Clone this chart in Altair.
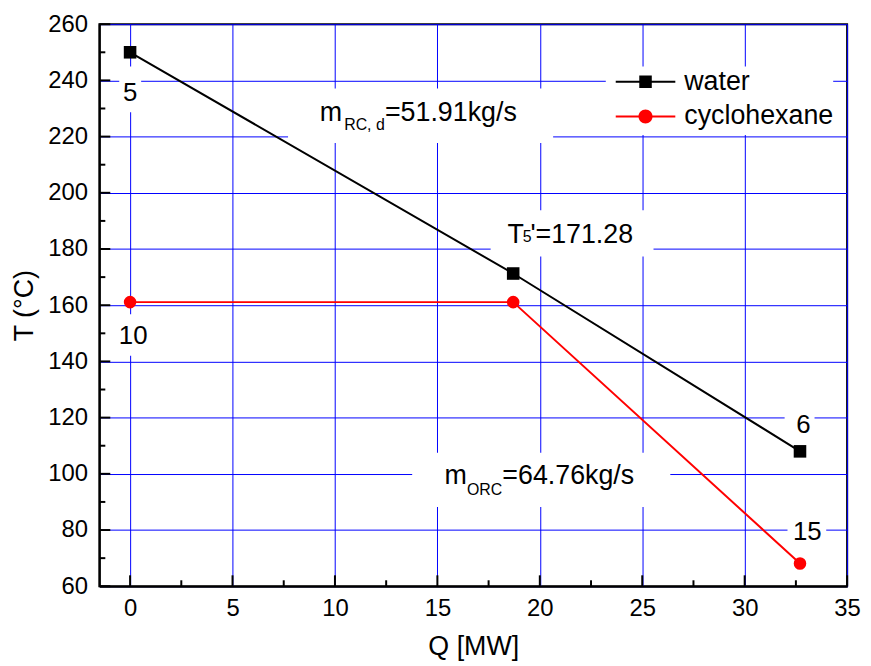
import altair as alt
import pandas as pd

FONT = "Liberation Sans"

# ---- series data ----
series_names = ["water", "cyclohexane"]
series_colors = ["#000000", "#ff0000"]
water_Q = [0.0, 18.7, 32.7]
water_T = [250.0, 171.28, 108.0]
cyc_Q = [0.0, 18.7, 32.7]
cyc_T = [161.1, 161.1, 68.1]

# ---- axes ----
x_ticks = [0, 5, 10, 15, 20, 25, 30, 35]
x_minor = [2.5, 7.5, 12.5, 17.5, 22.5, 27.5, 32.5]
y_ticks = [60, 80, 100, 120, 140, 160, 180, 200, 220, 240, 260]
y_minor = [70, 90, 110, 130, 150, 170, 190, 210, 230, 250]

# ---- point labels ----
pt_label_text = ["5", "10", "6", "15"]
pt_label_Q = [0.0, 0.15, 32.87, 33.06]
pt_label_T = [232.5, 146.3, 114.6, 76.3]

# ---- annotations (main text pieces and subscripts) ----
ann_text = ["m", "=51.91kg/s", "T", "'=171.28", "m", "=64.76kg/s"]
ann_Q = [9.26, 12.44, 18.42, 19.54, 15.35, 18.17]
ann_T = [225.5, 225.5, 182.2, 182.2, 96.3, 96.3]
sub_text = ["RC, d", "5", "ORC"]
sub_Q = [10.45, 19.17, 16.44]
sub_T = [222.3, 182.5, 92.4]

# ---- white label backgrounds ----
box_Q = [7.71, 23.22, 17.6, -0.53, -0.67, 31.95, 32.09, 13.77]
box_Q2 = [20.65, 34.32, 25.55, 0.54, 0.97, 33.41, 33.98, 26.37]
box_T = [237.1, 244.9, 193.8, 244.9, 156.8, 124.4, 85.7, 107.5]
box_T2 = [217.7, 220.6, 177.3, 228.7, 142.0, 112.1, 74.1, 88.2]

water_df = pd.DataFrame({"Q": water_Q, "T": water_T})
cyc_df = pd.DataFrame({"Q": cyc_Q, "T": cyc_T})
df = pd.DataFrame({
    "series": ["water"] * len(water_Q) + ["cyclohexane"] * len(cyc_Q),
    "Q": water_Q + cyc_Q,
    "T": water_T + cyc_T,
})
pt_df = pd.DataFrame({"label": pt_label_text, "Q": pt_label_Q, "T": pt_label_T})
ann_df = pd.DataFrame({"label": ann_text, "Q": ann_Q, "T": ann_T})
sub_df = pd.DataFrame({"label": sub_text, "Q": sub_Q, "T": sub_T})
box_df = pd.DataFrame({"Q": box_Q, "Q2": box_Q2, "T": box_T, "T2": box_T2})
xmaj_df = pd.DataFrame({"Q": x_ticks})
xmin_df = pd.DataFrame({"Q": x_minor})
ymaj_df = pd.DataFrame({"T": y_ticks})
ymin_df = pd.DataFrame({"T": y_minor})

W, H = 753, 566
xscale = alt.Scale(domain=[-1.5, 35], nice=False, zero=False)
yscale = alt.Scale(domain=[60, 260], nice=False, zero=False)

x_axis = alt.Axis(values=x_ticks, title="Q [MW]", grid=True, gridColor="#0000ff",
                  gridWidth=1, ticks=False, tickSize=0, labelFontSize=24, labelFont=FONT,
                  labelColor="black", labelPadding=10, labelFlush=False,
                  titleFontSize=27, titleFont=FONT, titleFontWeight="normal",
                  titleColor="black", titleY=69, titleBaseline="alphabetic",
                  domainColor="black", domainWidth=2)
y_axis = alt.Axis(values=y_ticks, title="T (°C)", grid=True, gridColor="#0000ff",
                  gridWidth=1, ticks=False, tickSize=0, labelFontSize=24, labelFont=FONT,
                  labelColor="black", labelPadding=12, labelFlush=False,
                  titleFontSize=27, titleFont=FONT, titleFontWeight="normal",
                  titleColor="black", titleX=-67, titleBaseline="alphabetic",
                  domainColor="black", domainWidth=2)

X = alt.X("Q:Q", scale=xscale, axis=x_axis)
Y = alt.Y("T:Q", scale=yscale, axis=y_axis)

color_scale = alt.Scale(domain=series_names, range=series_colors)

# legend symbols: line segment with marker (coordinates in symbol units)
sq_path = "M-2,-0.07H2V0.07H-2ZM-0.42,-0.42H0.42V0.42H-0.42Z"
ci_path = ("M-2,-0.07H2V0.07H-2Z"
           "M0.47,0A0.47,0.47,0,1,1,-0.47,0A0.47,0.47,0,1,1,0.47,0Z")
legend_shape_scale = alt.Scale(domain=series_names, range=[sq_path, ci_path])

boxes = alt.Chart(box_df).mark_rect(color="white").encode(
    x=X, x2="Q2:Q", y=Y, y2="T2:Q")

water_line = alt.Chart(water_df).mark_line(strokeWidth=2, color=series_colors[0]).encode(x=X, y=Y)
cyc_line = alt.Chart(cyc_df).mark_line(strokeWidth=2, color=series_colors[1]).encode(x=X, y=Y)
water_pts = alt.Chart(water_df).mark_square(size=160, opacity=1, color=series_colors[0]).encode(x=X, y=Y)
cyc_pts = alt.Chart(cyc_df).mark_circle(size=160, opacity=1, color=series_colors[1]).encode(x=X, y=Y)

ymaj = alt.Chart(ymaj_df).mark_rule(color="black", strokeWidth=2).encode(
    y=Y, x=alt.value(0), x2=alt.value(11))
ymin = alt.Chart(ymin_df).mark_rule(color="black", strokeWidth=2).encode(
    y=Y, x=alt.value(0), x2=alt.value(6))
xmaj = alt.Chart(xmaj_df).mark_rule(color="black", strokeWidth=2).encode(
    x=X, y=alt.value(H), y2=alt.value(H - 11))
xmin = alt.Chart(xmin_df).mark_rule(color="black", strokeWidth=2).encode(
    x=X, y=alt.value(H), y2=alt.value(H - 6))

pt_labels = alt.Chart(pt_df).mark_text(
    font=FONT, fontSize=26, color="black", align="center", baseline="alphabetic").encode(
    x=X, y=Y, text="label:N")

ann = alt.Chart(ann_df).mark_text(
    font=FONT, fontSize=27, color="black", align="left", baseline="alphabetic").encode(
    x=X, y=Y, text="label:N")

subs = alt.Chart(sub_df).mark_text(
    font=FONT, fontSize=16, color="black", align="left", baseline="alphabetic").encode(
    x=X, y=Y, text="label:N")

leg = alt.Legend(title=None, orient="none", legendX=535, legendY=43,
                 symbolSize=900, symbolStrokeWidth=0,
                 labelFont=FONT, labelFontSize=27, labelColor="black",
                 labelOffset=24, rowPadding=7, padding=0)

legend_layer = alt.Chart(df).transform_filter("false").mark_point(
    filled=True, opacity=1, size=900).encode(
    x=X, y=Y,
    color=alt.Color("series:N", scale=color_scale, legend=leg),
    shape=alt.Shape("series:N", scale=legend_shape_scale, legend=leg),
)

chart = alt.layer(
    boxes, water_line, cyc_line, water_pts, cyc_pts, ymaj, ymin, xmaj, xmin,
    pt_labels, ann, subs, legend_layer
).properties(
    width=W, height=H,
    autosize=alt.AutoSizeParams(type="none"),
    padding={"left": 92, "top": 14, "right": 16, "bottom": 76},
    background="white",
).configure_view(stroke="black", strokeWidth=2)

chart.save("out.html", embed_options={"renderer": "svg", "actions": False})
